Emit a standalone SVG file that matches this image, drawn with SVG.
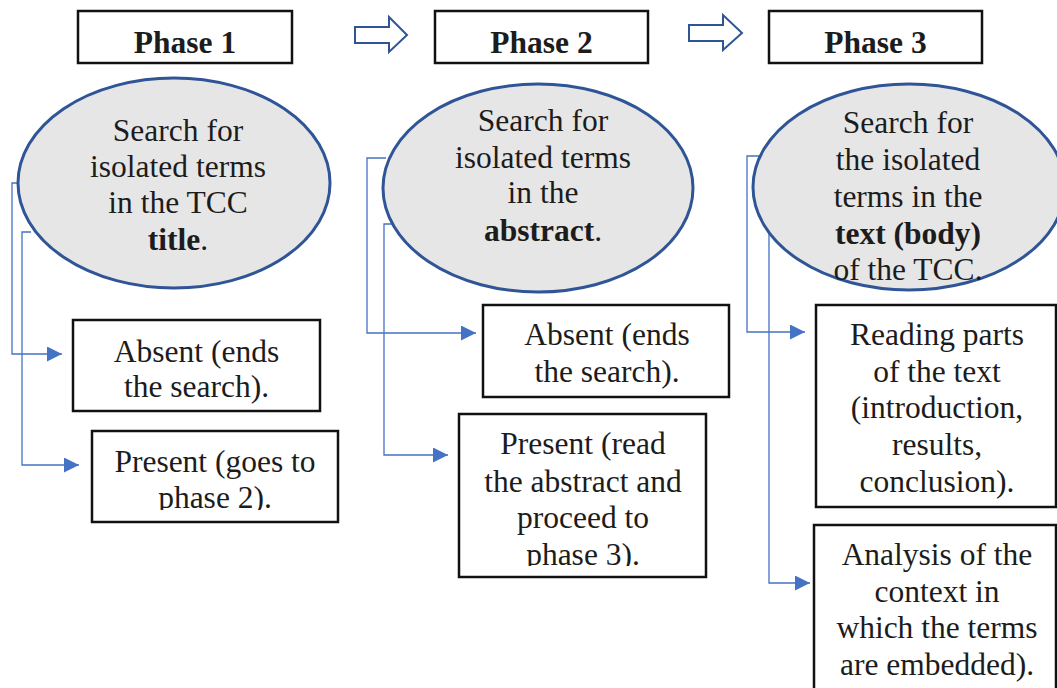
<svg xmlns="http://www.w3.org/2000/svg" width="1057" height="688" viewBox="0 0 1057 688">
<style>
.t{font-family:"Liberation Serif","Times New Roman",serif;font-size:31.5px;fill:#1c1c1c;text-anchor:middle}
.b{font-weight:bold}
.box{fill:#fff;stroke:#111;stroke-width:2.5}
.ell{fill:#e7e6e6;stroke:#2f5597;stroke-width:3}
.blk{fill:#fff;stroke:#2f5597;stroke-width:2}
.con{fill:none;stroke:#4472c4;stroke-width:1.3}
</style>
<defs>
<marker id="ah" viewBox="0 0 10 10" refX="10" refY="5" markerWidth="15" markerHeight="15" markerUnits="userSpaceOnUse" orient="auto">
<path d="M0,0 L10,5 L0,10 Z" fill="#4472c4"/>
</marker>
<clipPath id="c1"><rect x="92" y="431" width="246" height="79"/></clipPath>
<clipPath id="c2"><rect x="459" y="414" width="247" height="152"/></clipPath>
</defs>

<g id="phase1-header">
<rect class="box" x="78" y="11" width="214" height="52"/>
<text class="t b" x="185" y="53">Phase 1</text>
</g>
<g id="phase2-header">
<rect class="box" x="435" y="11" width="213" height="52"/>
<text class="t b" x="541.5" y="53">Phase 2</text>
</g>
<g id="phase3-header">
<rect class="box" x="769" y="11" width="213" height="52"/>
<text class="t b" x="875.5" y="53">Phase 3</text>
</g>

<g id="arrow-1-2">
<path class="blk" d="M355,27 H389 V17 L407,35 L389,52 V43 H355 Z"/>
</g>
<g id="arrow-2-3">
<path class="blk" d="M689,25 H723 V15 L742,33 L723,50 V41 H689 Z"/>
</g>

<g id="connectors">
<path class="con" d="M20,183 H12 V354 H62" marker-end="url(#ah)"/>
<path class="con" d="M31,232 H22 V465 H79" marker-end="url(#ah)"/>
<path class="con" d="M386,158 H367 V333 H476" marker-end="url(#ah)"/>
<path class="con" d="M393,224 H384 V455 H448" marker-end="url(#ah)"/>
<path class="con" d="M760,156 H747 V332 H805" marker-end="url(#ah)"/>
<path class="con" d="M769,233 V583 H810" marker-end="url(#ah)"/>
</g>

<g id="phase1-search">
<ellipse class="ell" cx="174" cy="183" rx="156" ry="105"/>
<text class="t" x="178" y="141">Search for</text>
<text class="t" x="178" y="177">isolated terms</text>
<text class="t" x="178" y="213">in the TCC</text>
<text class="t" x="178" y="250"><tspan class="b">title</tspan>.</text>
</g>
<g id="phase1-absent">
<rect class="box" x="73" y="320" width="247" height="91"/>
<text class="t" x="196.5" y="362">Absent (ends</text>
<text class="t" x="196.5" y="397">the search).</text>
</g>
<g id="phase1-present">
<rect class="box" x="92" y="431" width="246" height="91"/>
<g clip-path="url(#c1)">
<text class="t" x="215" y="472">Present (goes to</text>
<text class="t" x="215" y="508">phase 2).</text>
</g>
</g>

<g id="phase2-search">
<ellipse class="ell" cx="538" cy="188" rx="155" ry="104"/>
<text class="t" x="543" y="131">Search for</text>
<text class="t" x="543" y="168">isolated terms</text>
<text class="t" x="543" y="203">in the</text>
<text class="t" x="543" y="241"><tspan class="b">abstract</tspan>.</text>
</g>
<g id="phase2-absent">
<rect class="box" x="483" y="305" width="246" height="92"/>
<text class="t" x="607" y="345">Absent (ends</text>
<text class="t" x="607" y="382">the search).</text>
</g>
<g id="phase2-present">
<rect class="box" x="459" y="414" width="247" height="163"/>
<g clip-path="url(#c2)">
<text class="t" x="583" y="454">Present (read</text>
<text class="t" x="583" y="492">the abstract and</text>
<text class="t" x="583" y="528">proceed to</text>
<text class="t" x="583" y="565">phase 3).</text>
</g>
</g>

<g id="phase3-search">
<ellipse class="ell" cx="909" cy="187" rx="156" ry="103"/>
<text class="t" x="908" y="133">Search for</text>
<text class="t" x="908" y="170">the isolated</text>
<text class="t" x="908" y="207">terms in the</text>
<text class="t" x="908" y="244"><tspan class="b">text (body)</tspan></text>
<text class="t" x="908" y="280">of the TCC.</text>
</g>
<g id="phase3-reading">
<rect class="box" x="816" y="305" width="240" height="202"/>
<text class="t" x="937" y="345">Reading parts</text>
<text class="t" x="937" y="382">of the text</text>
<text class="t" x="937" y="418">(introduction,</text>
<text class="t" x="937" y="455">results,</text>
<text class="t" x="937" y="492">conclusion).</text>
</g>
<g id="phase3-analysis">
<rect class="box" x="814" y="525" width="242" height="175"/>
<text class="t" x="937" y="565">Analysis of the</text>
<text class="t" x="937" y="602">context in</text>
<text class="t" x="937" y="638">which the terms</text>
<text class="t" x="937" y="675">are embedded).</text>
</g>
</svg>
